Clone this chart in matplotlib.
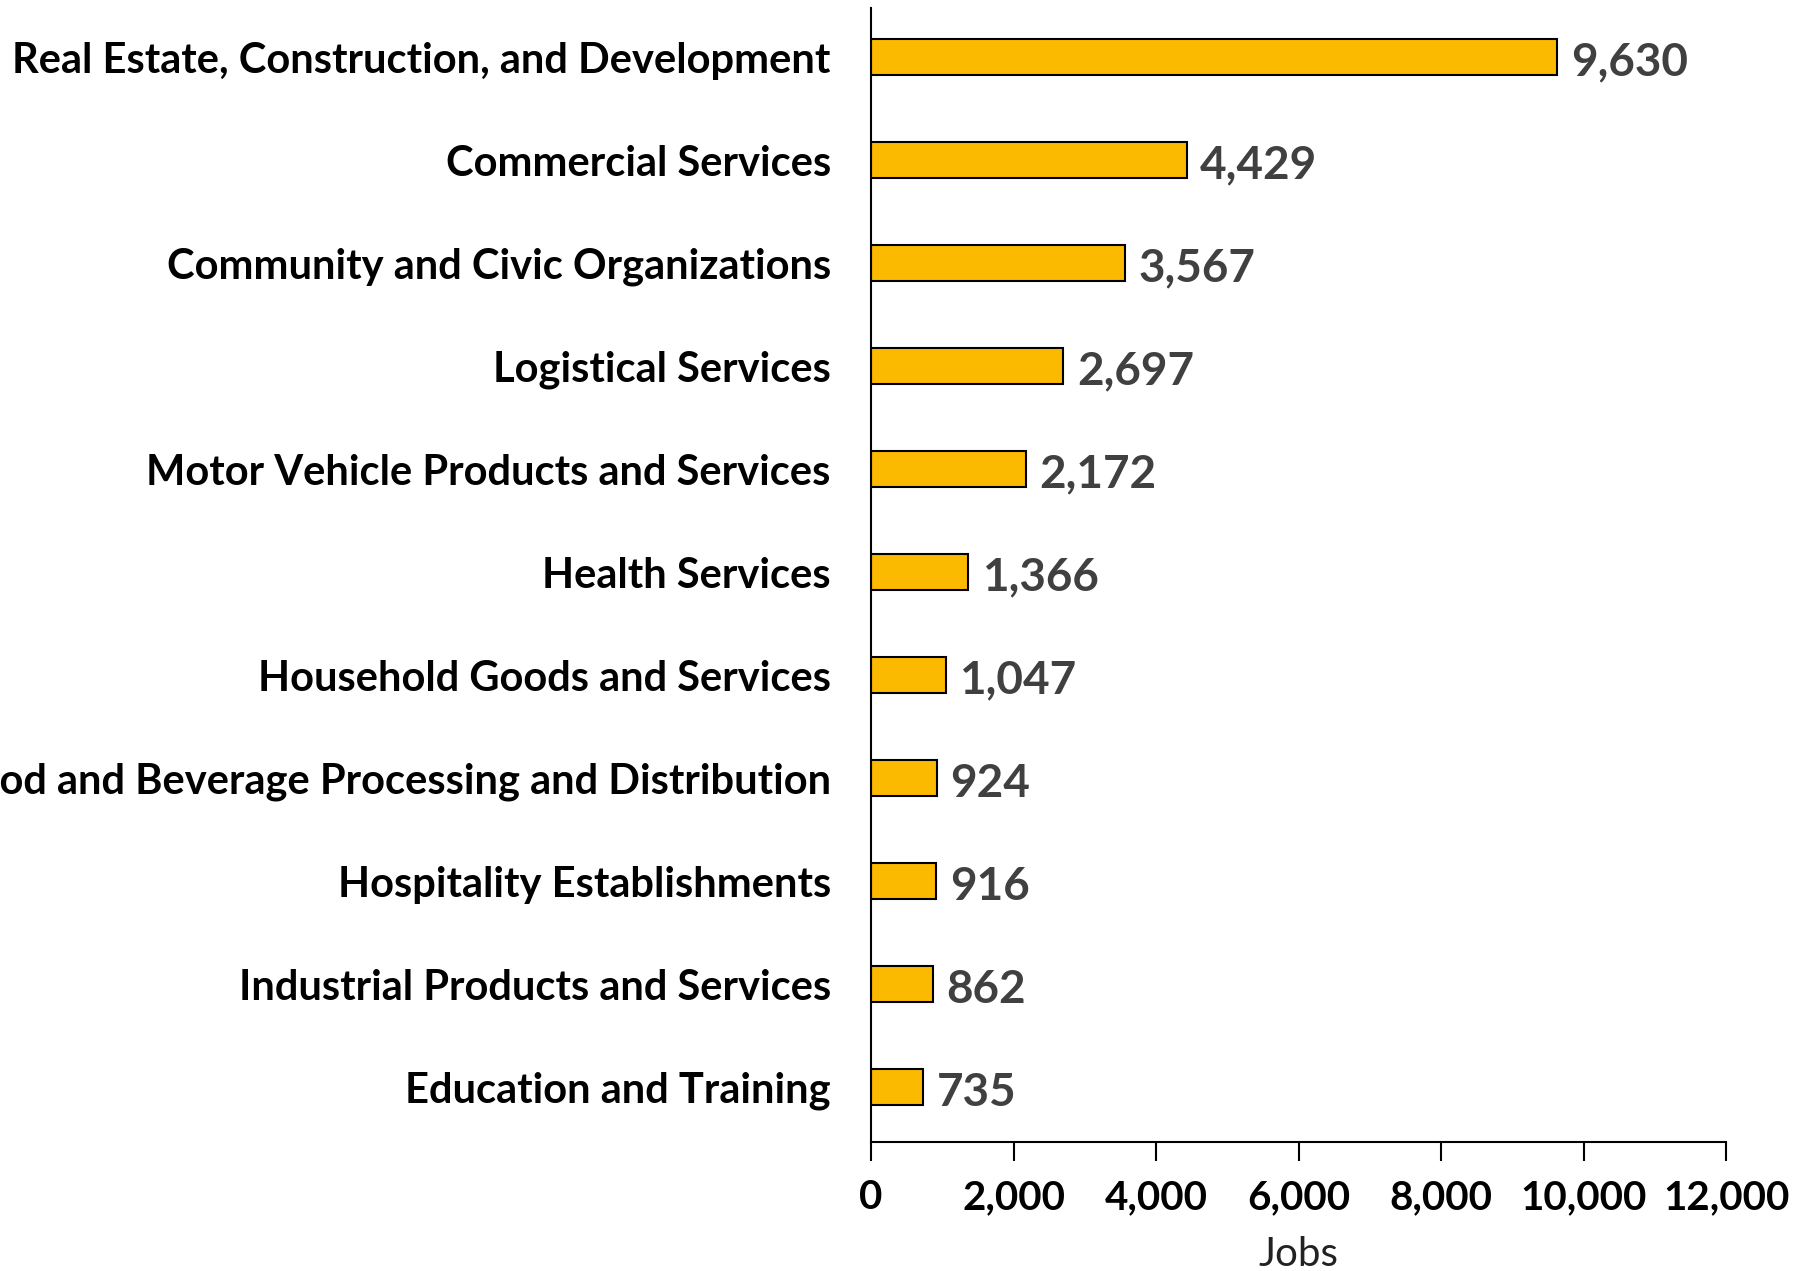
import matplotlib
matplotlib.use("Agg")
import matplotlib.pyplot as plt
from matplotlib.ticker import FuncFormatter

# Jobs by industry cluster
industries = [
    "Real Estate, Construction, and Development",
    "Commercial Services",
    "Community and Civic Organizations",
    "Logistical Services",
    "Motor Vehicle Products and Services",
    "Health Services",
    "Household Goods and Services",
    "Food and Beverage Processing and Distribution",
    "Hospitality Establishments",
    "Industrial Products and Services",
    "Education and Training",
]
jobs = [9630, 4429, 3567, 2697, 2172, 1366, 1047, 924, 916, 862, 735]
x_ticks = [0, 2000, 4000, 6000, 8000, 10000, 12000]

plt.rcParams["font.family"] = ["Lato", "DejaVu Sans"]

fig = plt.figure(figsize=(18.08, 12.71), dpi=100)
ax = fig.add_axes([0.4818, 0.1015, 0.4729, 0.8922])

ypos = list(range(len(industries)))
ax.barh(ypos, jobs, height=0.35, color="#FBBA00", edgecolor="black", linewidth=1.5)

for y, v in zip(ypos, jobs):
    ax.text(v + 190, y + 0.05, f"{v:,}", va="center", ha="left",
            fontsize=33, fontweight="bold", color="#404040")

ax.set_ylim(len(industries) - 0.47, -0.48)
ax.set_yticks(ypos)
ax.set_yticklabels(industries, fontsize=30, fontweight="bold")
ax.tick_params(axis="y", length=0, pad=29)

ax.set_xlim(0, 12000)
ax.set_xticks(x_ticks)
ax.xaxis.set_major_formatter(FuncFormatter(lambda v, p: f"{int(v):,}"))
ax.tick_params(axis="x", direction="out", length=14, width=1.5, pad=13, labelsize=29)
for lbl in ax.get_xticklabels():
    lbl.set_fontweight("bold")
ax.set_xlabel("Jobs", fontsize=29, color="#222222", labelpad=14)

for side in ["top", "right"]:
    ax.spines[side].set_visible(False)
ax.spines["left"].set_linewidth(1.5)
ax.spines["bottom"].set_linewidth(1.5)

fig.savefig("out.png", dpi=100)
